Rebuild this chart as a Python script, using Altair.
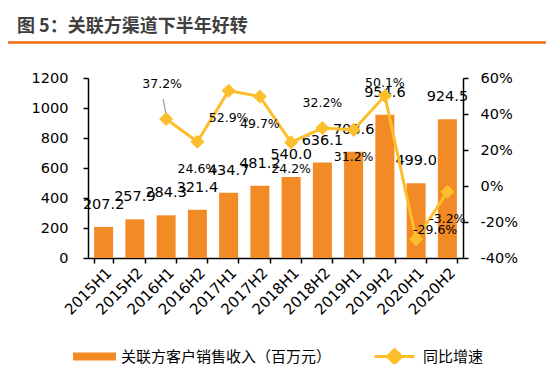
import altair as alt
import pandas as pd

periods = ["2015H1", "2015H2", "2016H1", "2016H2", "2017H1", "2017H2",
           "2018H1", "2018H2", "2019H1", "2019H2", "2020H1", "2020H2"]
revenue = [207.2, 257.9, 284.3, 321.4, 434.7, 481.2, 540.0, 636.1, 708.6, 954.6, 499.0, 924.5]
growth = [None, None, 37.2, 24.6, 52.9, 49.7, 24.2, 32.2, 31.2, 50.1, -29.6, -3.2]

bar_name = "关联方客户销售收入（百万元）"
line_name = "同比增速"
title_text = "图 5：关联方渠道下半年好转"

BAR_C = "#F28A26"
LINE_C = "#FDBE2C"
NUM_FONT = "DejaVu Sans"
CJK_FONT = "Noto Sans CJK SC"

df = pd.DataFrame({"period": periods, "revenue": revenue, "growth": growth})
df["bar_series"] = bar_name
df["line_series"] = line_name
gdf = df.dropna(subset=["growth"]).copy()
gdf["glabel"] = gdf["growth"].map(lambda v: f"{v:.1f}%")

W, H = 375, 180

x_axis = alt.Axis(labelAngle=-45, labelFont=NUM_FONT, labelFontSize=15,
                  labelColor="black", domainColor="black", domainWidth=1.5,
                  tickColor="black", tickWidth=1.5, tickSize=5, tickBand="extent",
                  labelPadding=2, title=None)
x_scale = alt.Scale(paddingInner=0.38, paddingOuter=0.19)

def xe():
    return alt.X("period:N", sort=periods, scale=x_scale, axis=x_axis)

left_axis = alt.Axis(values=[0, 200, 400, 600, 800, 1000, 1200], grid=False,
                     labelFont=NUM_FONT, labelFontSize=14.5, labelColor="black",
                     domainColor="black", domainWidth=1.5, tickColor="black",
                     tickWidth=1.5, tickSize=5, labelPadding=15, format="d", title=None)
left_scale = alt.Scale(domain=[0, 1200], nice=False)

right_axis = alt.Axis(orient="right", values=[-40, -20, 0, 20, 40, 60], grid=False,
                      labelExpr="datum.value + '%'",
                      labelFont=NUM_FONT, labelFontSize=14.5, labelColor="black",
                      domainColor="black", domainWidth=1.5, tickColor="black",
                      tickWidth=1.5, tickSize=5, labelPadding=12, title=None)
right_scale = alt.Scale(domain=[-40, 60], nice=False)

def yl():
    return alt.Y("revenue:Q", scale=left_scale, axis=left_axis)

def yr():
    return alt.Y("growth:Q", scale=right_scale, axis=right_axis)

bars = alt.Chart(df).mark_bar(size=19).encode(
    x=xe(),
    y=yl(),
    color=alt.Color("bar_series:N", scale=alt.Scale(domain=[bar_name], range=[BAR_C]),
                    legend=alt.Legend(title=None, orient="none", legendX=-15, legendY=257,
                                      symbolType="M-1,-0.19L1,-0.19L1,0.19L-1,0.19Z",
                                      symbolSize=1849, symbolStrokeWidth=0,
                                      labelFont=CJK_FONT, labelFontSize=15, labelLimit=0,
                                      labelColor="black", labelOffset=5, padding=0)),
)

bar_text = alt.Chart(df).mark_text(font=NUM_FONT, fontSize=14.5, color="black",
                                   baseline="middle", dy=-22).encode(
    x=xe(),
    y=yl(),
    text=alt.Text("revenue:Q", format=".1f"),
)

left_layer = alt.layer(bars, bar_text)

line = alt.Chart(gdf).mark_line(strokeWidth=3).encode(
    x=xe(),
    y=yr(),
    stroke=alt.Stroke("line_series:N", scale=alt.Scale(domain=[line_name], range=[LINE_C]),
                      legend=alt.Legend(title=None, orient="none", legendX=285, legendY=257,
                                        symbolType="M-1,0L1,0M-0.35,0L0,-0.35L0.35,0L0,0.35Z",
                                        symbolSize=1600, symbolStrokeWidth=3,
                                        symbolFillColor=LINE_C,
                                        labelFont=CJK_FONT, labelFontSize=15, labelLimit=0,
                                        labelColor="black", labelOffset=7, padding=0)),
)

pts = alt.Chart(gdf).mark_point(shape="diamond", filled=True, size=200, color=LINE_C,
                                opacity=1).encode(
    x=xe(),
    y=yr(),
)

def glabels(cats, dx=0, dy=0):
    return alt.Chart(gdf).transform_filter(
        alt.FieldOneOfPredicate(field="period", oneOf=cats)
    ).mark_text(font=NUM_FONT, fontSize=12.5, color="black", baseline="middle",
                dx=dx, dy=dy).encode(
        x=xe(),
        y=yr(),
        text="glabel:N",
    )

below = glabels(["2016H2", "2017H1", "2017H2", "2018H1", "2019H1", "2020H2"], dx=0, dy=27)
lab_a = glabels(["2016H1"], dx=-4, dy=-35)
lab_b = glabels(["2018H2"], dx=0, dy=-25)
lab_c = glabels(["2019H2"], dx=0, dy=-13)
lab_d = glabels(["2020H1"], dx=19, dy=-9)

leader = alt.Chart(gdf).transform_filter(
    alt.FieldEqualPredicate(field="period", equal="2016H1")
).mark_rule(color="#999999", strokeWidth=1.2, yOffset=-4, y2Offset=-20, xOffset=0,
            x2Offset=-3).encode(
    x=xe(),
    x2=alt.X2("period:N"),
    y=yr(),
    y2=alt.Y2("growth:Q"),
)

right_layer = alt.layer(line, leader, pts, below, lab_a, lab_b, lab_c, lab_d)

deco_df = pd.DataFrame({"t": [title_text]})
deco_rule = alt.Chart(deco_df).mark_rule(color="#F26A10", strokeWidth=2.5).encode(
    x=alt.value(-80), x2=alt.value(458), y=alt.value(-35.5)
)
deco_title = alt.Chart(deco_df).mark_text(font=CJK_FONT, fontSize=18, fontWeight="bold",
                                          color="#404040", align="left",
                                          baseline="alphabetic").encode(
    x=alt.value(-71), y=alt.value(-46), text="t:N"
)

chart = alt.layer(left_layer, right_layer, deco_rule, deco_title).resolve_scale(
    y="independent", color="independent"
).properties(
    width=W, height=H,
    autosize=alt.AutoSizeParams(type="none"),
    padding={"left": 80, "top": 70, "right": 83, "bottom": 106},
).configure_view(stroke=None)

chart.save("out.html", embed_options={"renderer": "svg", "actions": False})
